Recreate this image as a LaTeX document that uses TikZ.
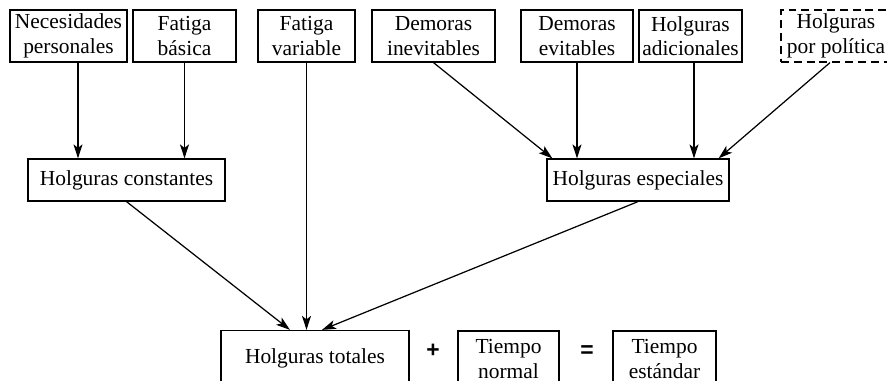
\documentclass[tikz,border=0pt]{standalone}
\usepackage{fontspec}
\setmainfont{Liberation Serif}
\newfontfamily\opfont{Liberation Sans}
\usetikzlibrary{arrows.meta}

\begin{document}
\begin{tikzpicture}[line width=0.7pt,
        every node/.style={font=\fontsize{12.2}{14}\selectfont},
        box/.style={draw, align=center, inner sep=0pt, minimum height=1.04cm},
        midbox/.style={box, minimum height=0.84cm},
        lowbox/.style={box, minimum height=1.12cm},
        arr/.style={-{Stealth[length=0.28cm, width=0.18cm, inset=0.07cm]}}]
        \useasboundingbox (0,0) rectangle (17.74,-7.62);
        \clip (0,0) rectangle (17.74,-7.62);
        % fuentes de holgura
        \node[box, minimum width=2.34cm] (nec) at (1.37,-0.72) {Necesidades\\personales};
        \node[box, minimum width=2.06cm] (fb) at (3.69,-0.72) {Fatiga\\básica};
        \node[box, minimum width=1.94cm] (fv) at (6.13,-0.72) {Fatiga\\variable};
        \node[box, minimum width=2.46cm] (di) at (8.67,-0.72) {Demoras\\inevitables};
        \node[box, minimum width=2.24cm] (de) at (11.54,-0.72) {Demoras\\evitables};
        \node[box, minimum width=2.06cm] (ha) at (13.81,-0.72) {Holguras\\adicionales};
        \node[box, dash pattern=on 4.5pt off 2.8pt, minimum width=2.2cm] (hp) at (16.72,-0.72) {Holguras\\por política};
        % grupos
        \node[midbox, minimum width=3.94cm] (hc) at (2.53,-3.60) {Holguras constantes};
        \node[midbox, minimum width=3.64cm] (he) at (12.76,-3.60) {Holguras especiales};
        % resultado
        \node[lowbox, minimum width=3.76cm] (ht) at (6.30,-7.17) {Holguras totales};
        \node[lowbox, minimum width=2.02cm] (tn) at (10.17,-7.18) {Tiempo\\normal};
        \node[lowbox, minimum width=2.06cm] (te) at (13.29,-7.18) {Tiempo\\estándar};
        \node[font=\opfont\bfseries\fontsize{13}{14}\selectfont] (plus) at (8.66,-7.02) {+};
        \node[font=\opfont\bfseries\fontsize{13}{14}\selectfont] (eq) at (11.74,-7.04) {=};
        \draw[arr] ([xshift=0.19cm]nec.south) -- ([xshift=0.19cm]nec.south |- hc.north);
        \draw[arr] (fb.south) -- (fb.south |- hc.north);
        \draw[arr] (di.south) -- ([xshift=0.12cm]he.north west);
        \draw[arr] (de.south) -- (de.south |- he.north);
        \draw[arr] ([xshift=0.07cm]ha.south) -- ([xshift=0.07cm]ha.south |- he.north);
        \draw[arr] ([xshift=-0.12cm]hp.south) -- ([xshift=-0.22cm]he.north east);
        \draw[arr] (hc.south) -- ([xshift=-0.5cm]ht.north);
        \draw[arr] (fv.south) -- (fv.south |- ht.north);
        \draw[arr] (he.south) -- ([xshift=0.14cm]ht.north);
\end{tikzpicture}
\end{document}
